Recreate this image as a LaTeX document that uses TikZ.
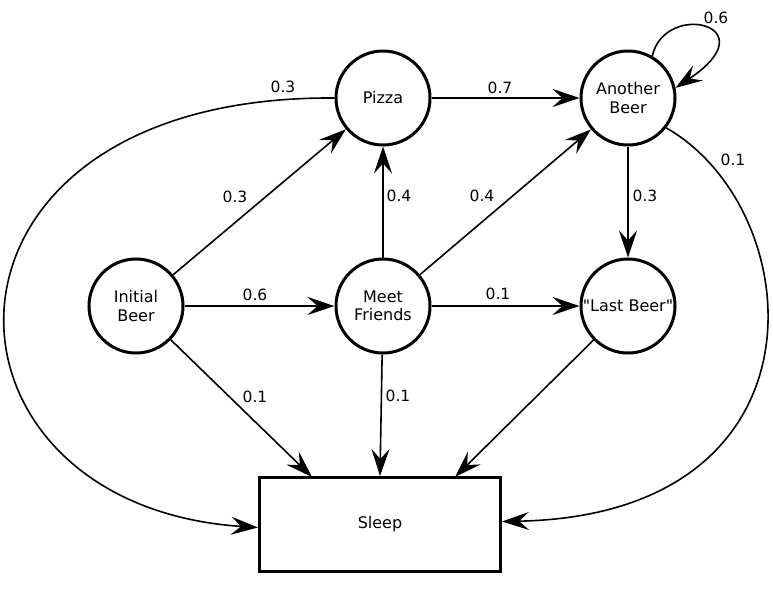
\documentclass[tikz,border=0pt]{standalone}
\usepackage{fontspec}
\setmainfont{DejaVu Sans}[Ligatures=TeXOff]
\usetikzlibrary{arrows.meta}
\begin{document}
\begin{tikzpicture}[x=1pt,y=-1pt,
  state/.style={circle,draw,line width=3pt,minimum size=94pt,inner sep=0pt,align=center,font=\fontsize{16}{18.5}\selectfont},
  box/.style={rectangle,draw,line width=3pt,minimum width=241pt,minimum height=94pt,font=\fontsize{16}{18.5}\selectfont},
  edge/.style={line width=1.6pt,-{Stealth[length=27pt,width=18pt,inset=10pt]}},
  lbl/.style={font=\fontsize{15.5}{17}\selectfont,inner sep=0pt}]
\useasboundingbox (0,0) rectangle (773,590);
\node[state] (pizza) at (383,98) {Pizza};
\node[state] (another) at (628,98) {Another\\Beer};
\node[state] (init) at (136,306) {Initial\\Beer};
\node[state] (meet) at (383,306) {Meet\\Friends};
\node[state] (last) at (628,306) {"Last Beer"};
\node[box] (sleep) at (380,524.5) {Sleep};
\coordinate (s1) at (312,477);
\coordinate (s3) at (455,477);

\draw[edge] (init) -- (pizza);
\draw[edge] (init) -- (meet);
\draw[edge] (init) -- (s1);
\draw[edge] (meet) -- (pizza);
\draw[edge] (meet) -- (another);
\draw[edge] (meet) -- (last);
\draw[edge] (meet) -- (sleep.north);
\draw[edge] (pizza) -- (another);
\draw[edge] (another) -- (last);
\draw[edge] (last) -- (s3);
\draw[edge] (pizza.west) .. controls (-95,95) and (-85,505) .. ([yshift=-3pt]sleep.west);
\draw[edge] (another.-38) .. controls (810,210) and (835,515) .. ([yshift=3pt]sleep.east);
\draw[edge] (another.60) .. controls (665,0) and (770,25) .. (another.12);

\node[lbl] (l1) at (283,87) {0.3};
\node[lbl] (l2) at (235,197) {0.3};
\node[lbl] (l3) at (255,295) {0.6};
\node[lbl] (l4) at (255,397) {0.1};
\node[lbl] (l5) at (399,196) {0.4};
\node[lbl] (l6) at (482,196) {0.4};
\node[lbl] (l7) at (500,88) {0.7};
\node[lbl] (l8) at (716,18) {0.6};
\node[lbl] (l9) at (733,160) {0.1};
\node[lbl] (l10) at (645,196) {0.3};
\node[lbl] (l11) at (498,294) {0.1};
\node[lbl] (l12) at (398,396) {0.1};
\end{tikzpicture}
\end{document}
